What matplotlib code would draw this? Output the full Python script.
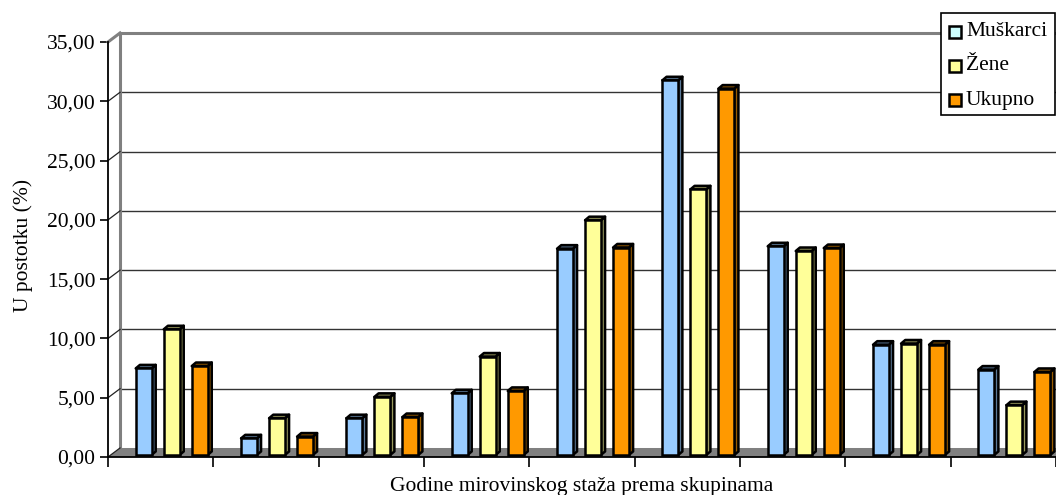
import matplotlib
matplotlib.use("Agg")
import matplotlib.pyplot as plt
from matplotlib.patches import Rectangle, Polygon

plt.rcParams['font.family'] = ['Liberation Serif', 'DejaVu Serif']

# ---- data ----
categories = ["", "", "", "", "", "", "", "", ""]
series_names = ["Muškarci", "Žene", "Ukupno"]
muskarci = [7.3, 1.4, 3.1, 5.2, 17.4, 31.6, 17.6, 9.3, 7.2]
zene = [10.6, 3.1, 4.9, 8.3, 19.8, 22.4, 17.2, 9.4, 4.2]
ukupno = [7.5, 1.55, 3.2, 5.4, 17.5, 30.9, 17.45, 9.3, 7.0]
y_ticks = [0, 5, 10, 15, 20, 25, 30, 35]
x_label = "Godine mirovinskog staža prema skupinama"
y_label = "U postotku (%)"

series = [muskarci, zene, ukupno]
front_colors = ["#99CCFF", "#FFFF99", "#FF9900"]
side_colors = ["#5C7A99", "#99995C", "#995C00"]
top_colors = ["#4D6680", "#80804D", "#804D00"]
legend_colors = ["#CCFFFF", "#FFFF99", "#FF9900"]

FS = 15.5
W, H = 1056, 495
fig = plt.figure(figsize=(W / 100, H / 100), dpi=100)
ax = fig.add_axes([108 / W, 38 / H, 948 / W, 424 / H])

# 3D depth offsets (data units)
DX = 0.114   # depth shift in x
DY = 0.76    # depth shift in y
n = len(categories)
ax.set_xlim(-DX, n - DX)
ax.set_ylim(-DY, y_ticks[-1])

# floor
ax.add_patch(Polygon([(-DX, -DY), (n - DX, -DY), (n, 0), (0, 0)],
                     closed=True, facecolor="#808080", edgecolor="none", zorder=1))
# back wall gridlines
for v in y_ticks[1:-1]:
    ax.plot([0, n + 1], [v, v], color="#333333", lw=1.0, zorder=2)
# back wall borders
ax.plot([0, 0], [0, y_ticks[-1]], color="#808080", lw=2.2, zorder=2, clip_on=False)
ax.plot([0, n + 1], [y_ticks[-1], y_ticks[-1]], color="#808080", lw=2.2, zorder=2, clip_on=False)
ax.plot([-DX, 0], [y_ticks[-1] - DY, y_ticks[-1]], color="#808080", lw=2.2, zorder=2, clip_on=False)
# left wall diagonals
for v in y_ticks[:-1]:
    ax.plot([-DX, 0], [v - DY, v], color="#222222", lw=0.9, zorder=2, clip_on=False)

# bars
bw = 0.15
offsets = [-0.266, 0.0, 0.266]
base = -DY * 7 / 9
sdx, sdy = 0.04, 0.30
for s, vals in enumerate(series):
    xs = [i + 0.49 + offsets[s] for i in range(n)]
    ax.bar(xs, vals, width=bw, bottom=base, color=front_colors[s],
           edgecolor="black", linewidth=1.8, zorder=5)
    for x, v in zip(xs, vals):
        top = base + v
        xl, xr = x - bw / 2, x + bw / 2
        ax.add_patch(Polygon([(xr, base), (xr + sdx, base + sdy), (xr + sdx, top + sdy), (xr, top)],
                             closed=True, facecolor=side_colors[s], edgecolor="black",
                             linewidth=1.8, joinstyle="round", zorder=4))
        ax.add_patch(Polygon([(xl, top), (xl + sdx, top + sdy), (xr + sdx, top + sdy), (xr, top)],
                             closed=True, facecolor=top_colors[s], edgecolor="black",
                             linewidth=1.8, joinstyle="round", zorder=4))

# axes spines / ticks (front plane)
for sp in ["top", "right"]:
    ax.spines[sp].set_visible(False)
ax.spines["left"].set_bounds(-DY, y_ticks[-1] - DY)
ax.spines["left"].set_linewidth(1.3)
ax.spines["bottom"].set_linewidth(1.3)
ax.set_yticks([v - DY for v in y_ticks])
ax.set_yticklabels([f"{v:.2f}".replace(".", ",") for v in y_ticks], fontsize=FS)
ax.set_xticks([-DX + k for k in range(n + 1)])
ax.set_xticklabels([""] * (n + 1))
ax.tick_params(axis="y", length=6, width=1.2, pad=3)
ax.tick_params(axis="x", length=7, width=1.2)
ax.set_xlabel(x_label, fontsize=FS, labelpad=4)
ax.set_ylabel(y_label, fontsize=FS, labelpad=10)

# legend (manual, figure pixel coords)
def fx(px):
    return px / W

def fy(py):
    return 1 - py / H

fig.patches.append(Rectangle((fx(941), fy(115)), fx(1056) - fx(941) - 0.001, fy(13) - fy(115),
                             transform=fig.transFigure, facecolor="white", edgecolor="black",
                             linewidth=1.2, zorder=10))
rows = [32, 66, 100]
for name, col, ry in zip(series_names, legend_colors, rows):
    fig.patches.append(Rectangle((fx(949), fy(ry + 6)), fx(12), 12 / H,
                                 transform=fig.transFigure, facecolor=col, edgecolor="black",
                                 linewidth=1.8, zorder=11))
    fig.text(fx(966), fy(ry), name, fontsize=FS, va="center", ha="left", zorder=12)

fig.savefig("out.png", dpi=100)
